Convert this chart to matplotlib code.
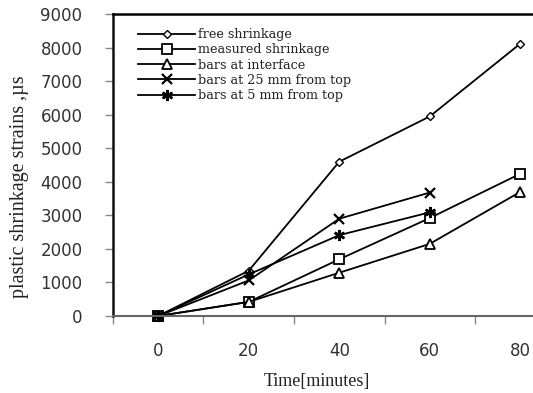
import matplotlib
matplotlib.use("Agg")
import matplotlib.pyplot as plt
from matplotlib.ticker import FixedLocator

# time steps (minutes) and measured strains (microstrain)
times = ["0", "20", "40", "60", "80"]
free_shrinkage = [0, 1350, 4600, 5950, 8120]
measured_shrinkage = [0, 420, 1690, 2920, 4240]
bars_interface = [0, 420, 1290, 2150, 3700]
bars_25mm = [0, 1060, 2900, 3680]
bars_5mm = [0, 1240, 2410, 3090]

series = [
    ("free shrinkage", free_shrinkage, dict(marker="D", ms=4, mfc="white", mew=1.0)),
    ("measured shrinkage", measured_shrinkage, dict(marker="s", ms=7, mfc="white", mew=1.3)),
    ("bars at interface", bars_interface, dict(marker="^", ms=7, mfc="white", mew=1.3)),
    ("bars at 25 mm from top", bars_25mm, dict(marker="x", ms=7, mew=1.6)),
    ("bars at 5 mm from top", bars_5mm, dict(marker=(6, 2, 0), ms=8, mew=1.8)),
]

serif = ["Liberation Serif", "DejaVu Serif"]

fig = plt.figure(figsize=(5.33, 3.93), dpi=100)
ax = fig.add_axes([0.212, 0.196, 0.849, 0.768])

for label, vals, style in series:
    ax.plot(range(len(vals)), vals, color="black", lw=1.3, label=label, clip_on=False, **style)

ax.set_xlim(-0.5, 4.5)
ax.set_ylim(0, 9000)
ax.set_yticks(range(0, 9001, 1000))
ax.set_xticks(range(len(times)))
ax.set_xticklabels(times)
ax.xaxis.set_minor_locator(FixedLocator([-0.5, 0.5, 1.5, 2.5, 3.5]))
ax.tick_params(axis="x", which="major", length=0, pad=19, labelsize=12, colors="#333333")
ax.tick_params(axis="x", which="minor", length=6, width=1, color="#888888", direction="out")
ax.tick_params(axis="y", length=6, width=1, color="#888888", pad=16, labelsize=12, labelcolor="#333333")

for side in ("top", "right"):
    ax.spines[side].set_linewidth(1.8)
    ax.spines[side].set_color("black")
ax.spines["left"].set_linewidth(1.8)
ax.spines["left"].set_color("#111111")
ax.spines["bottom"].set_linewidth(1.5)
ax.spines["bottom"].set_color("#666666")

ax.set_xlabel("Time[minutes]", fontsize=13, family=serif, color="#222222")
ax.set_ylabel("plastic shrinkage strains ,\u00b5s", fontsize=14.5, family=serif, color="#222222")
ax.yaxis.set_label_coords(-0.185, 0.43)
ax.xaxis.set_label_coords(0.45, -0.19)

leg = ax.legend(loc="upper left", bbox_to_anchor=(0.045, 0.97), frameon=False,
                prop={"family": "DejaVu Serif", "size": 9.2}, handlelength=4.4,
                handletextpad=0.25, labelspacing=0.17, borderaxespad=0)
for t in leg.get_texts():
    t.set_color("#222222")

fig.savefig("out.png", dpi=100)
